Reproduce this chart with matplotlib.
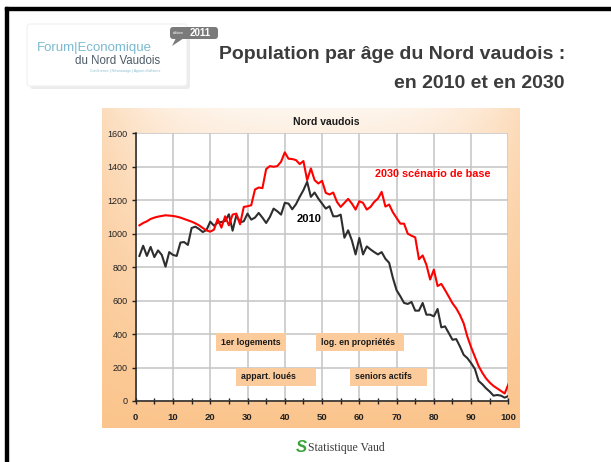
import numpy as np
import matplotlib.pyplot as plt
from matplotlib import font_manager
from matplotlib.patches import Rectangle, FancyBboxPatch, Polygon

# ages 1..100
ages = list(range(1, 101))

pop_2010 = [867, 928, 867, 921, 860, 900, 873, 803, 890, 873,
            867, 947, 950, 933, 1034, 1042, 1028, 1010, 1022, 1072,
            1048, 1066, 1070, 1076, 1116, 1018, 1110, 1068, 1074, 1120,
            1084, 1096, 1124, 1096, 1064, 1100, 1150, 1134, 1114, 1184,
            1180, 1146, 1176, 1220, 1260, 1310, 1220, 1246, 1210, 1180,
            1150, 1164, 1104, 1104, 1114, 976, 1020, 960, 876, 974,
            876, 924, 906, 890, 876, 890, 850, 826, 736, 662,
            626, 586, 580, 592, 540, 540, 586, 516, 516, 506,
            550, 440, 446, 406, 366, 370, 326, 276, 256, 226,
            192, 120, 100, 76, 56, 32, 36, 32, 20, 30]

pop_2030 = [1050, 1064, 1074, 1088, 1096, 1102, 1106, 1110, 1108, 1106,
            1102, 1096, 1088, 1080, 1072, 1062, 1050, 1034, 1020, 1012,
            1024, 1088, 1036, 1104, 1050, 1114, 1120, 1056, 1160, 1164,
            1170, 1264, 1276, 1272, 1386, 1404, 1400, 1404, 1430, 1486,
            1448, 1446, 1440, 1416, 1434, 1320, 1390, 1320, 1300, 1316,
            1244, 1234, 1246, 1190, 1160, 1184, 1208, 1180, 1144, 1194,
            1184, 1144, 1160, 1190, 1210, 1250, 1162, 1174, 1128, 1094,
            1060, 1060, 1000, 988, 978, 847, 870, 814, 726, 785,
            687, 700, 663, 624, 584, 554, 514, 464, 384, 321,
            265, 209, 169, 135, 110, 90, 75, 60, 45, 100]

box_labels = ["1er logements", "log. en propriétés", "appart. loués", "seniors actifs"]

names = {f.name for f in font_manager.fontManager.ttflist}
narrow = "Liberation Sans Narrow" if "Liberation Sans Narrow" in names else "Liberation Sans"
plt.rcParams["font.family"] = ["Liberation Sans", "DejaVu Sans"]

fig = plt.figure(figsize=(6.11, 4.62), dpi=100)

# page layer in pixel coordinates
page = fig.add_axes([0, 0, 1, 1])
page.set_xlim(0, 611)
page.set_ylim(462, 0)
page.axis("off")
page.add_patch(Rectangle((5, 7), 606, 2.5, color="black"))
page.add_patch(Rectangle((5, 7), 2.5, 455, color="black"))

# logo
page.add_patch(FancyBboxPatch((30, 27), 160, 62, boxstyle="round,pad=0,rounding_size=3",
                              fc="#ececec", ec="none"))
page.add_patch(FancyBboxPatch((27, 24), 160, 62, boxstyle="round,pad=0,rounding_size=3",
                              fc="white", ec="#f0f0f0", lw=0.8))
page.text(37, 48, "Forum|Economique", color="#7bbad0", fontsize=9.5, family=narrow,
          va="center", ha="left")
page.text(160, 61, "du Nord Vaudois", color="#4d5a66", fontsize=8.3, family=narrow,
          va="center", ha="right")
page.text(160, 71, "Conférence | Réseautage | Apport d'affaires", color="#8cbfcf",
          fontsize=2.6, va="center", ha="right")
page.add_patch(FancyBboxPatch((170, 27), 48, 12, boxstyle="round,pad=0,rounding_size=3",
                              fc="#7a7a7a", ec="none"))
page.add_patch(Polygon([[176, 38], [184, 38], [172, 46]], closed=True, fc="#7a7a7a", ec="none"))
page.text(184, 33.5, "édition", color="white", fontsize=2.6, va="center", ha="right")
page.text(200, 33.5, "2011", color="white", fontsize=7, weight="bold", va="center", ha="center")

# titles
page.text(565, 59, "Population par âge du Nord vaudois :", color="#3c3c3c", fontsize=14,
          family=narrow, weight="bold", ha="right", va="baseline")
page.text(565, 88, "en 2010 et en 2030", color="#3c3c3c", fontsize=14,
          family=narrow, weight="bold", ha="right", va="baseline")

# footer
page.text(301, 448, "S", color="#3aa33a", fontsize=12, weight="bold", style="italic",
          ha="center", va="center")
page.text(308, 448, "Statistique Vaud", color="#3a3a3a", fontsize=8.5,
          family="Liberation Serif", ha="left", va="center")

# chart area gradient
bg = fig.add_axes([102 / 611, 34 / 462, 418 / 611, 320 / 462])
ty = np.linspace(0, 1, 200)[:, None]
tx = np.linspace(0, 1, 300)[None, :]
t = 1 - (1 - ty ** 0.85) * (1 - 0.5 * np.abs(2 * tx - 1) ** 3)
top = np.array([254, 246, 238]) / 255
bot = np.array([251, 196, 140]) / 255
img = top[None, None, :] + (bot - top)[None, None, :] * t[:, :, None]
bg.imshow(img, aspect="auto", extent=[0, 1, 0, 1], origin="upper")
bg.axis("off")

ax = fig.add_axes([135.7 / 611, 61 / 462, 372.7 / 611, 267.7 / 462])
ax.set_facecolor("white")
ax.set_xlim(0, 100)
ax.set_ylim(0, 1600)
ax.set_xticks(range(0, 101, 10))
ax.set_xticks(range(0, 101, 5), minor=True)
ax.set_yticks(range(0, 1601, 200))
ax.grid(True, which="major", color="#c4c4c4", lw=1.1)
ax.set_axisbelow(True)
for s in ["top", "right"]:
    ax.spines[s].set_visible(False)
for s in ["left", "bottom"]:
    ax.spines[s].set_color("#222222")
    ax.spines[s].set_linewidth(1.1)
ax.tick_params(axis="x", which="both", direction="inout", length=5, width=1, pad=6,
               labelsize=6.8, colors="#222222")
ax.tick_params(axis="y", direction="out", length=3, width=1, pad=3,
               labelsize=6.5, colors="#222222")
for lab in ax.get_xticklabels():
    lab.set_fontweight("bold")

ax.plot(ages, pop_2010, color="#2e2e2e", lw=1.5, zorder=3)
ax.plot(ages, pop_2030, color="#ff0000", lw=1.5, zorder=3)

ax.text(46.6, 1088, "2010", color="black", fontsize=8, weight="bold", ha="center", va="center")
ax.text(79.6, 1357, "2030 scénario de base", color="#ff0000", fontsize=7.8, weight="bold",
        ha="center", va="center")

box_x = [(21.5, 40.3), (48.4, 72.0), (26.9, 48.4), (57.5, 78.2)]
box_y = [(298, 406), (298, 406), (90, 199), (90, 199)]
for lab, (x0, x1), (y0, y1) in zip(box_labels, box_x, box_y):
    ax.add_patch(Rectangle((x0, y0), x1 - x0, y1 - y0, fc="#fbcb9c", ec="none", zorder=2))
    ax.text(x0 + 1.3, (y0 + y1) / 2, lab, fontsize=6.3, weight="bold", color="#1a1a1a",
            ha="left", va="center", zorder=4)

fig.text(326.5 / 611, 1 - 122 / 462, "Nord vaudois", fontsize=7.5, weight="bold",
         ha="center", va="center", color="#1a1a1a")

fig.savefig("out.png", dpi=100)
